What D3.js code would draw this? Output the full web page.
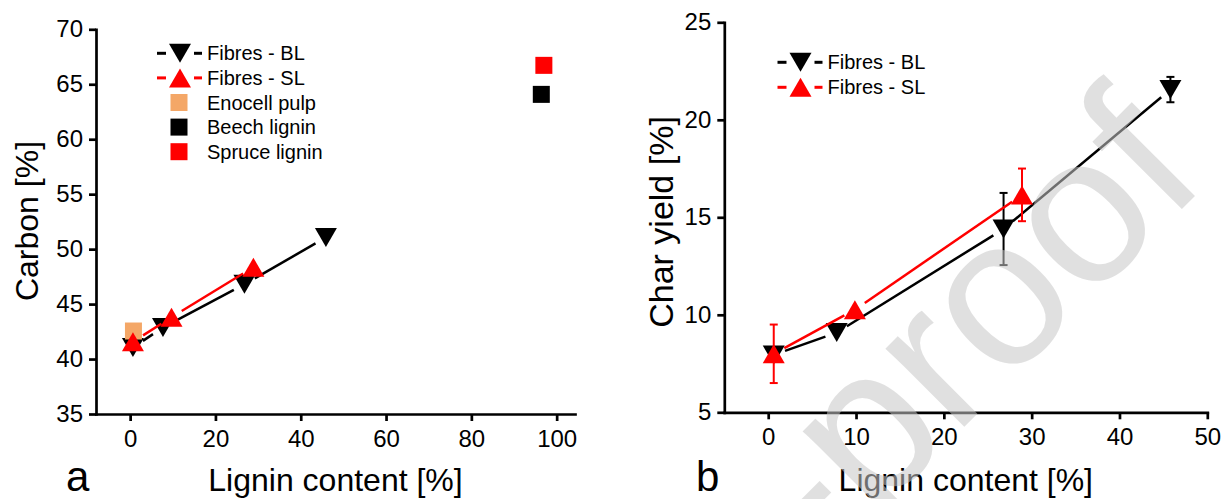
<!DOCTYPE html>
<html>
<head>
<meta charset="utf-8">
<script src="https://cdn.jsdelivr.net/npm/d3@7"></script>
<style>
  html, body { margin: 0; padding: 0; background: #fff; }
  svg { display: block; font-family: "Liberation Sans", Arial, Helvetica, sans-serif; }
</style>
</head>
<body>
<svg id="fig" width="1224" height="499"></svg>
<script>
// ---- Panel a: carbon content vs lignin content ----
const carbonBL_x = [0.66, 7.7, 26.8, 45.9];
const carbonBL_y = [41.05, 42.87, 46.8, 51.06];
const carbonSL_x = [0.66, 9.7, 28.9];
const carbonSL_y = [41.57, 43.8, 48.35];
const enocellPulp = [0.78, 42.55];
const beechLignin = [96.4, 64.08];
const spruceLignin = [97.0, 66.72];
const carbonTicksX = [0, 20, 40, 60, 80, 100];
const carbonTicksY = [35, 40, 45, 50, 55, 60, 65, 70];

// ---- Panel b: char yield vs lignin content (mean ± error) ----
const charBL_x = [0.63, 7.8, 26.8, 45.8];
const charBL_y = [7.94, 9.09, 14.4, 21.55];
const charBL_err = [0, 0, 1.85, 0.65];
const charSL_x = [0.63, 9.87, 28.9];
const charSL_y = [8.0, 10.26, 16.15];
const charSL_err = [1.5, 0, 1.35];
const charTicksX = [0, 10, 20, 30, 40, 50];
const charTicksY = [5, 10, 15, 20, 25];

const legendA = ["Fibres - BL", "Fibres - SL", "Enocell pulp", "Beech lignin", "Spruce lignin"];
const legendB = ["Fibres - BL", "Fibres - SL"];

const BLACK = "#000000", RED = "#ff0000", PULP = "#f4a767";
const TRI_W = 22, TRI_H = 19, SQ = 17;

const svg = d3.select("#fig");

const triDown = `M${-TRI_W/2},${-TRI_H/2}L${TRI_W/2},${-TRI_H/2}L0,${TRI_H/2}Z`;
const triUp   = `M${-TRI_W/2},${TRI_H/2}L${TRI_W/2},${TRI_H/2}L0,${-TRI_H/2}Z`;

// line segments between consecutive points, pulled back from each marker
function gappedSegments(pts, gap) {
  const segs = [];
  for (let i = 0; i < pts.length - 1; i++) {
    const [x1, y1] = pts[i], [x2, y2] = pts[i + 1];
    const L = Math.hypot(x2 - x1, y2 - y1), ux = (x2 - x1) / L, uy = (y2 - y1) / L;
    segs.push([x1 + ux * gap, y1 + uy * gap, x2 - ux * gap, y2 - uy * gap]);
  }
  return segs;
}

function drawAxes(g, x, y, ticksX, ticksY) {
  const xa = g.append("g").attr("transform", `translate(0,${y.range()[0]})`)
    .call(d3.axisBottom(x).tickValues(ticksX).tickSize(7).tickSizeOuter(0).tickPadding(9));
  const ya = g.append("g").attr("transform", `translate(${x.range()[0]},0)`)
    .call(d3.axisLeft(y).tickValues(ticksY).tickSize(7).tickSizeOuter(0).tickPadding(6));
  [xa, ya].forEach(a => {
    a.attr("font-family", null).attr("font-size", null);
    a.selectAll("path.domain").attr("stroke", BLACK).attr("stroke-width", 2.7).attr("stroke-linecap", "square");
    a.selectAll(".tick line").attr("stroke", BLACK).attr("stroke-width", 2.7);
    a.selectAll(".tick text").attr("fill", BLACK).style("font-size", "24px");
  });
}

function drawSeries(g, x, y, xs, ys, errs, color, shape) {
  const pts = xs.map((v, i) => [x(v), y(ys[i])]);
  g.append("g").selectAll("line").data(gappedSegments(pts, 12)).join("line")
    .attr("x1", d => d[0]).attr("y1", d => d[1]).attr("x2", d => d[2]).attr("y2", d => d[3])
    .attr("stroke", color).attr("stroke-width", 2.5);
  if (errs) {
    const eb = g.append("g").attr("stroke", color).attr("stroke-width", 2);
    xs.forEach((v, i) => {
      if (!errs[i]) return;
      const cx = x(v), yt = y(ys[i] + errs[i]), yb = y(ys[i] - errs[i]);
      eb.append("line").attr("x1", cx).attr("x2", cx).attr("y1", yt).attr("y2", yb);
      eb.append("line").attr("x1", cx - 4).attr("x2", cx + 4).attr("y1", yt).attr("y2", yt);
      eb.append("line").attr("x1", cx - 4).attr("x2", cx + 4).attr("y1", yb).attr("y2", yb);
    });
  }
  g.append("g").selectAll("path").data(pts).join("path")
    .attr("transform", d => `translate(${d[0]},${d[1]})`)
    .attr("d", shape).attr("fill", color);
}

function drawLegend(g, items, x0, y0, step) {
  const sym = [
    {shape: triDown, color: BLACK, line: true},
    {shape: triUp, color: RED, line: true},
    {square: true, color: PULP},
    {square: true, color: BLACK},
    {square: true, color: RED}
  ];
  items.forEach((label, i) => {
    const s = sym[i], cy = y0 + i * step;
    const row = g.append("g");
    if (s.line) {
      row.append("line").attr("x1", x0 - 23).attr("x2", x0 - 14).attr("y1", cy).attr("y2", cy)
        .attr("stroke", s.color).attr("stroke-width", 3);
      row.append("line").attr("x1", x0 + 14).attr("x2", x0 + 22).attr("y1", cy).attr("y2", cy)
        .attr("stroke", s.color).attr("stroke-width", 3);
      row.append("path").attr("transform", `translate(${x0},${cy})`).attr("d", s.shape).attr("fill", s.color);
    } else {
      row.append("rect").attr("x", x0 - SQ / 2 - 1).attr("y", cy - SQ / 2).attr("width", SQ).attr("height", SQ)
        .attr("fill", s.color);
    }
    row.append("text").attr("x", x0 + 27).attr("y", cy).attr("dy", "0.35em")
      .style("font-size", "20px").attr("fill", BLACK).text(label);
  });
}

// ---------- Panel a ----------
const gA = svg.append("g");
const xA = d3.scaleLinear().domain([-8, 104.3]).range([96, 575]);
const yA = d3.scaleLinear().domain([35, 70]).range([414, 29.3]);
drawAxes(gA, xA, yA, carbonTicksX, carbonTicksY);
drawSeries(gA, xA, yA, carbonBL_x, carbonBL_y, null, BLACK, triDown);
gA.append("rect").attr("x", xA(enocellPulp[0]) - SQ / 2).attr("y", yA(enocellPulp[1]) - SQ / 2)
  .attr("width", SQ).attr("height", SQ).attr("fill", PULP);
drawSeries(gA, xA, yA, carbonSL_x, carbonSL_y, null, RED, triUp);
[[beechLignin, BLACK], [spruceLignin, RED]].forEach(([p, c]) => {
  gA.append("rect").attr("x", xA(p[0]) - SQ / 2).attr("y", yA(p[1]) - SQ / 2)
    .attr("width", SQ).attr("height", SQ).attr("fill", c);
});
drawLegend(gA, legendA, 180, 53.3, 24.6);
gA.append("text").attr("transform", "translate(38,221) rotate(-90)").attr("text-anchor", "middle")
  .style("font-size", "32px").text("Carbon [%]");
gA.append("text").attr("x", (xA.range()[0] + xA.range()[1]) / 2).attr("y", 491).attr("text-anchor", "middle")
  .style("font-size", "32px").text("Lignin content [%]");
gA.append("text").attr("x", 66).attr("y", 491).style("font-size", "42px").text("a");

// ---------- Panel b ----------
const gB = svg.append("g");
const xB = d3.scaleLinear().domain([-5, 50]).range([724.3, 1207.3]);
const yB = d3.scaleLinear().domain([5, 25]).range([412.3, 22.3]);
drawAxes(gB, xB, yB, charTicksX, charTicksY);
drawSeries(gB, xB, yB, charBL_x, charBL_y, charBL_err, BLACK, triDown);
drawSeries(gB, xB, yB, charSL_x, charSL_y, charSL_err, RED, triUp);
drawLegend(gB, legendB, 800.5, 62.3, 25);
gB.append("text").attr("transform", "translate(673,222) rotate(-90)").attr("text-anchor", "middle")
  .style("font-size", "34px").text("Char yield [%]");
gB.append("text").attr("x", (xB.range()[0] + xB.range()[1]) / 2).attr("y", 491).attr("text-anchor", "middle")
  .style("font-size", "32px").text("Lignin content [%]");
gB.append("text").attr("x", 696).attr("y", 491).style("font-size", "42px").text("b");

// ---------- page watermark ----------
svg.append("text").attr("transform", "translate(1210,181) rotate(-45)").attr("text-anchor", "end")
  .style("font-size", "210px").attr("fill", "#c8c8c8").attr("opacity", 0.55)
  .text("Journal Pre-proof");
</script>
</body>
</html>
